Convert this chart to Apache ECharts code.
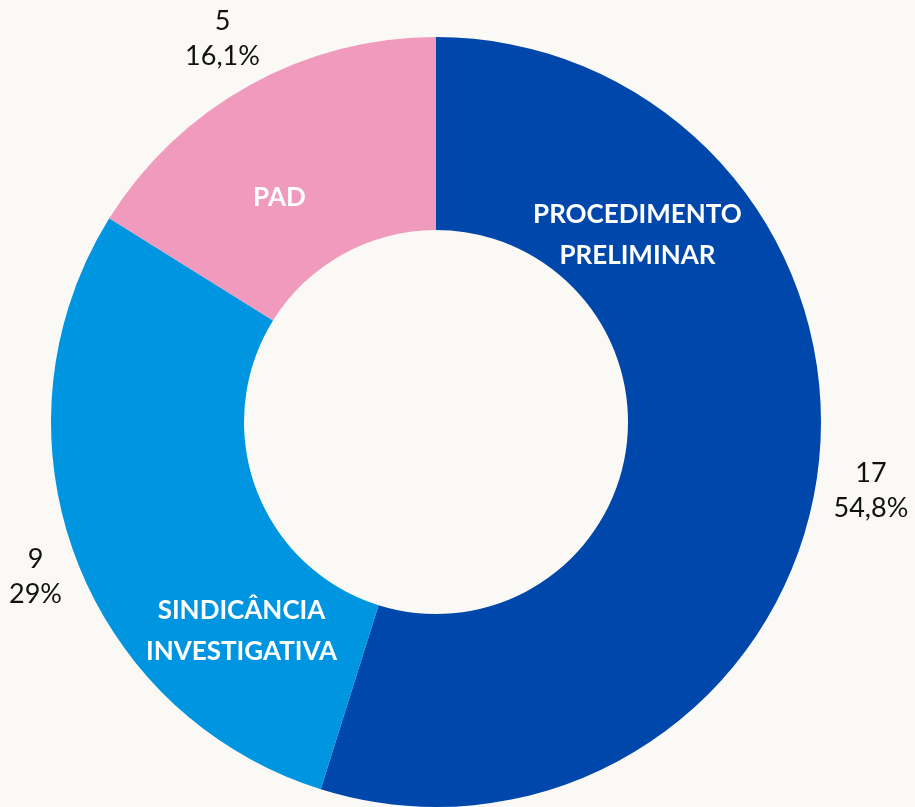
<!DOCTYPE html>
<html>
<head>
<meta charset="utf-8">
<script src="https://cdn.jsdelivr.net/npm/echarts@6/dist/echarts.min.js"></script>
<style>
  html, body { margin: 0; padding: 0; background: #fbf9f6; }
  #chart { width: 915px; height: 807px; }
</style>
</head>
<body>
<div id="chart"></div>
<script>
// dados do gráfico
const categorias = ['PROCEDIMENTO\nPRELIMINAR', 'SINDICÂNCIA\nINVESTIGATIVA', 'PAD'];
const valores = [17, 9, 5];
const cores = ['#0047ab', '#0095e0', '#f09abe'];
// ângulo (graus, sentido horário a partir do topo) onde fica o nome dentro do anel
const anguloNomes = [46, 224, 326];

const total = valores.reduce((a, b) => a + b, 0);
const CX = 436, CY = 422, R_IN = 192, R_OUT = 385;

function pct(v) {
    const p = Math.round(v / total * 1000) / 10;
    return (Number.isInteger(p) ? p.toFixed(0) : p.toFixed(1)).replace('.', ',') + '%';
}

// ponto polar a partir do centro (ângulo a partir do topo, sentido horário)
function polar(ang, r) {
    const a = ang * Math.PI / 180;
    return { x: CX + r * Math.sin(a), y: CY - r * Math.cos(a) };
}

// ângulo médio de cada fatia
function anguloMedio(i) {
    let acc = 0;
    for (let k = 0; k < i; k++) acc += valores[k];
    return (acc + valores[i] / 2) / total * 360;
}

const chart = echarts.init(document.getElementById('chart'));
const dados = categorias.map((c, i) => ({ name: c, value: valores[i], itemStyle: { color: cores[i] } }));

chart.setOption({
    backgroundColor: '#fbf9f6',
    animation: false,
    series: [
        {
            type: 'pie',
            center: [CX, CY],
            radius: [R_IN, R_OUT],
            startAngle: 90,
            clockwise: true,
            data: dados,
            label: {
                show: true,
                position: 'inside',
                formatter: '{b}',
                color: '#ffffff',
                fontFamily: 'Lato',
                fontWeight: 'bold',
                fontSize: 26,
                lineHeight: 41,
                align: 'center'
            },
            labelLine: { show: false },
            labelLayout: function (params) {
                const p = polar(anguloNomes[params.dataIndex], 280);
                return { x: p.x, y: p.y + 8, align: 'center', verticalAlign: 'middle' };
            }
        },
        {
            type: 'pie',
            center: [CX, CY],
            radius: [R_IN, R_OUT],
            startAngle: 90,
            clockwise: true,
            silent: true,
            data: valores.map((v, i) => ({ name: categorias[i], value: v })),
            itemStyle: { color: 'rgba(0,0,0,0)' },
            label: {
                show: true,
                position: 'inside',
                formatter: p => p.value + '\n' + pct(p.value),
                color: '#111111',
                fontFamily: 'Lato',
                fontSize: 27,
                lineHeight: 35,
                align: 'center',
                overflow: 'none'
            },
            labelLine: { show: false },
            labelLayout: function (params) {
                const p = polar(anguloMedio(params.dataIndex), 440);
                const w = params.labelRect.width;
                const x = Math.min(Math.max(p.x, w / 2 + 9), 915 - w / 2 - 4);
                return { x: x, y: p.y + 2, align: 'center', verticalAlign: 'middle' };
            }
        }
    ]
});
</script>
</body>
</html>
